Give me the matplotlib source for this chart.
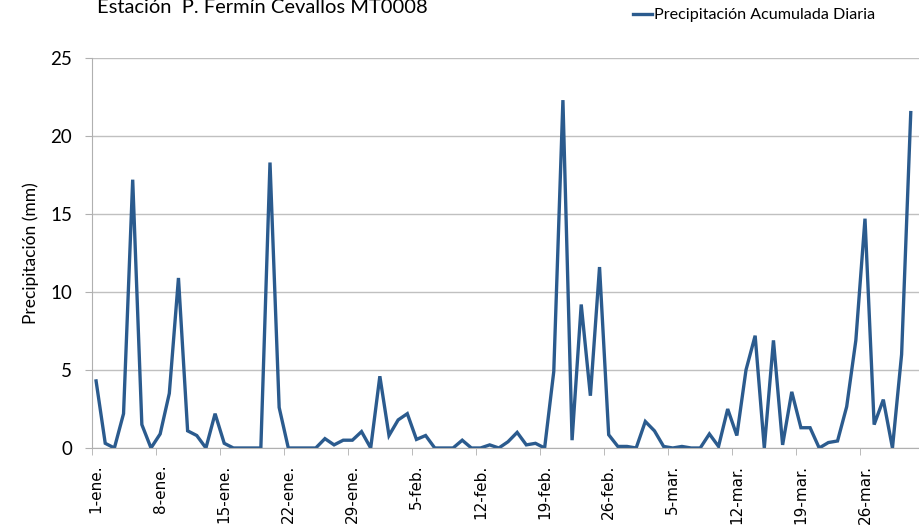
import matplotlib
matplotlib.use("Agg")
import matplotlib.pyplot as plt
import numpy as np

# precipitacion diaria (mm), 1-ene a 31-mar
precip = [4.3, 0.3, 0.0, 2.2, 17.2, 1.5, 0.0, 0.9, 3.5, 10.9,
          1.1, 0.8, 0.0, 2.2, 0.3, 0.0, 0.0, 0.0, 0.0, 18.3,
          2.6, 0.0, 0.0, 0.0, 0.0, 0.6, 0.2, 0.5, 0.5, 1.05,
          0.0, 4.6, 0.8, 1.8, 2.2, 0.55, 0.8, 0.0, 0.0, 0.0,
          0.5, 0.0, 0.0, 0.2, 0.0, 0.4, 1.0, 0.2, 0.3, 0.0,
          4.9, 22.3, 0.5, 9.2, 3.35, 11.6, 0.85, 0.1, 0.1, 0.0,
          1.7, 1.1, 0.1, 0.0, 0.1, 0.0, 0.0, 0.9, 0.1, 2.5,
          0.8, 5.0, 7.2, 0.0, 6.9, 0.2, 3.6, 1.3, 1.3, 0.0,
          0.35, 0.45, 2.65, 6.9, 14.7, 1.5, 3.1, 0.0, 6.0, 21.5]

tick_labels = ["1-ene.", "8-ene.", "15-ene.", "22-ene.", "29-ene.", "5-feb.",
               "12-feb.", "19-feb.", "26-feb.", "5-mar.", "12-mar.", "19-mar.",
               "26-mar."]

x = np.arange(len(precip))

fig = plt.figure(figsize=(9.19, 5.25), dpi=100)
ax = fig.add_axes([91.5 / 919, 1 - 448 / 525, 1 - 91.5 / 919, (448 - 58) / 525])

ax.plot(x, precip, color="#2b5b8e", lw=2.4, label="Precipitación Acumulada Diaria",
        solid_joinstyle="miter")

ax.set_xlim(-0.5, 89.9)
ax.set_ylim(0, 25)
ax.set_yticks(range(0, 26, 5))
ax.yaxis.grid(True, color="#c0c0c0", lw=1)
ax.set_axisbelow(True)

ax.set_xticks(np.arange(0, len(precip), 7))
ax.set_xticklabels(tick_labels, rotation=90, fontsize=11, family="DejaVu Sans")
ax.set_xticks(np.arange(-0.5, len(precip), 7), minor=True)
ax.tick_params(axis="x", which="major", length=0, pad=12)
ax.tick_params(axis="x", which="minor", length=5, color="#b0b0b0")
ax.tick_params(axis="y", length=5, color="#b0b0b0", pad=9)
for lbl in ax.get_yticklabels():
    lbl.set_family("Lato")
    lbl.set_fontsize(13.5)

for s in ["top", "right"]:
    ax.spines[s].set_visible(False)
for s in ["left", "bottom"]:
    ax.spines[s].set_color("#b0b0b0")

ax.set_ylabel("Precipitación (mm)", fontsize=12.5, family="Lato", labelpad=8)

fig.text(97 / 919, 1 - 13 / 525, "Estación  P. Fermín Cevallos MT0008",
         fontsize=14.5, family="Lato", va="baseline", ha="left")

ax.legend(loc="center left", bbox_to_anchor=(633 / 919, 1 - 15 / 525),
          bbox_transform=fig.transFigure, frameon=False,
          prop={"family": "Lato", "size": 11.6}, handlelength=1.2,
          handletextpad=0.1, borderpad=0, borderaxespad=0)

fig.savefig("out.png", dpi=100)
